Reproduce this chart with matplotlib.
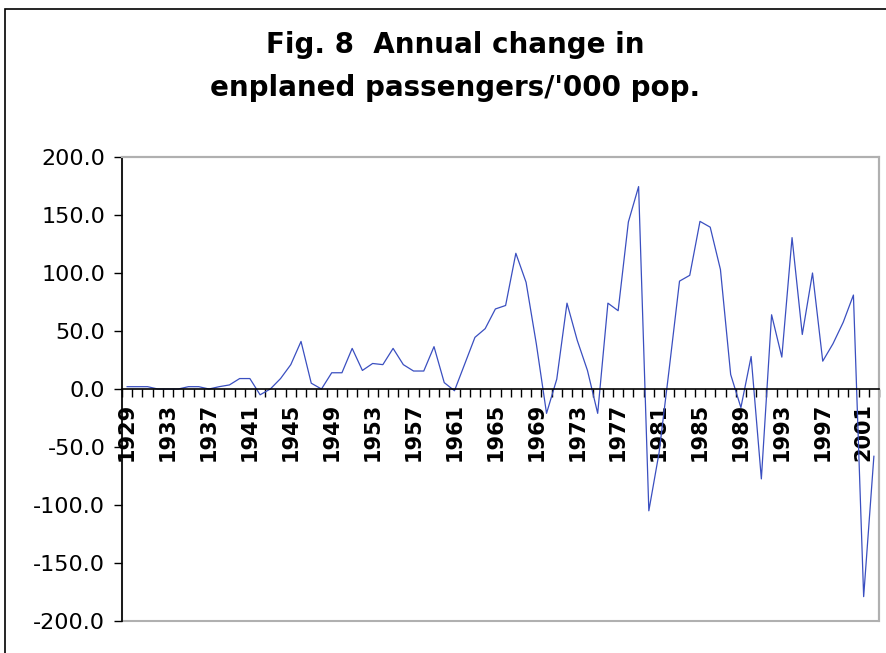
import matplotlib
matplotlib.use("Agg")
import matplotlib.pyplot as plt
import numpy as np
from matplotlib.patches import Rectangle

plt.rcParams['axes.unicode_minus'] = False
plt.rcParams['font.family'] = ['DejaVu Sans']

years = list(range(1929, 2003))
values = [
    2, 2, 2, 0, 0, 0, 2, 2, 0, 2,          # 1929-1938
    3.5, 9, 9, -5, 0, 9, 21, 41, 5, 0,     # 1939-1948
    14, 14, 35, 16, 22, 21, 35, 21, 15.5, 15.5,  # 1949-1958
    36.5, 5.5, -1.5, 21.5, 44.5, 52, 69, 72, 117, 92,  # 1959-1968
    39, -21, 8.5, 74, 42, 16, -21, 74, 67.5, 144,  # 1969-1978
    174.5, -105, -55, 18, 93, 98, 144.5, 139.5, 103, 12.5,  # 1979-1988
    -16, 28, -77.5, 64, 27.5, 130.5, 47, 100, 24, 39,  # 1989-1998
    57.5, 81, -179, -58,                   # 1999-2002
]
yticks = [-200, -150, -100, -50, 0, 50, 100, 150, 200]
title_lines = ["Fig. 8  Annual change in", "enplaned passengers/'000 pop."]

W, H = 886, 653
fig = plt.figure(figsize=(W / 100, H / 100), dpi=100)

# outer chart border (cropped at right and bottom)
fig.patches.append(Rectangle((5 / W, -0.1), 2, 1 - 9 / H + 0.1, transform=fig.transFigure,
                             fill=False, ec='black', lw=1.2))

left, right, top, bottom = 122, 879, 157, 621
ax = fig.add_axes([left / W, 1 - bottom / H, (right - left) / W, (bottom - top) / H])

x = np.arange(len(years))
ax.plot(x, values, color='#3a4fc0', lw=0.9)

ax.set_xlim(-0.5, len(years) - 0.5)
ax.set_ylim(-200, 200)

# plot area border
ax.patch.set_edgecolor('#b0b0b0')
ax.patch.set_linewidth(1.5)
for s in ['top', 'right']:
    ax.spines[s].set_color('#b0b0b0')
    ax.spines[s].set_linewidth(1.5)
ax.spines['left'].set_color('black')
ax.spines['left'].set_linewidth(1.2)
ax.spines['bottom'].set_position(('data', 0))
ax.spines['bottom'].set_color('black')
ax.spines['bottom'].set_linewidth(1.2)

ax.set_yticks(yticks)
ax.set_yticklabels([f"{v:.1f}" for v in yticks], fontsize=16)
ax.tick_params(axis='y', direction='out', length=6, width=1, pad=6)

label_idx = [i for i, yv in enumerate(years) if (yv - 1929) % 4 == 0]
ax.set_xticks(label_idx)
ax.set_xticklabels([str(years[i]) for i in label_idx], rotation=90, fontsize=15,
                   fontweight='bold', va='top', ha='center')
ax.set_xticks(np.arange(-0.5, len(years)), minor=True)
ax.tick_params(axis='x', which='major', length=0, pad=10)
ax.tick_params(axis='x', which='minor', direction='out', length=6, width=1)

fig.text(455 / W, 1 - 45 / H, title_lines[0], ha='center', va='center',
         fontsize=20, fontweight='bold')
fig.text(455 / W, 1 - 88 / H, title_lines[1], ha='center', va='center',
         fontsize=20, fontweight='bold')

fig.savefig('out.png', dpi=100)
